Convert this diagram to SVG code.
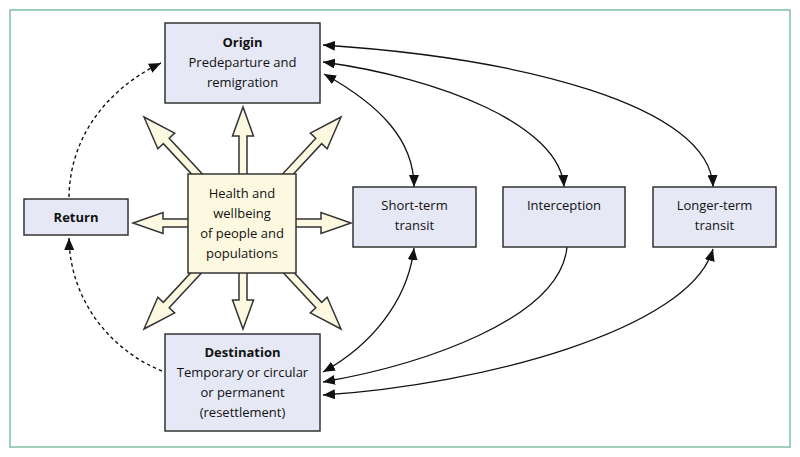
<svg xmlns="http://www.w3.org/2000/svg" width="800" height="457" viewBox="0 0 800 457">
<defs>
<style>
.frame{fill:#fff;stroke:#82c0a4;stroke-width:1.5}
.box{fill:#e6e8f5;stroke:#333;stroke-width:1.5}
.hbox{fill:#fdf9e0;stroke:#333;stroke-width:1.5}
.fat{fill:#fdf9e0;stroke:#333;stroke-width:1.5;stroke-linejoin:miter}
text{font-family:"Open Sans","Noto Sans",sans-serif;font-size:13px;fill:#111;text-anchor:middle}
.b{font-weight:bold}
.con{fill:none;stroke:#111;stroke-width:1.3}
.dash{fill:none;stroke:#111;stroke-width:1.4;stroke-dasharray:3.5 3}
</style>
<marker id="ah" viewBox="0 0 12 10" refX="12" refY="5" markerWidth="12" markerHeight="10" markerUnits="userSpaceOnUse" orient="auto-start-reverse">
<path d="M0,0 L12,5 L0,10 Z" fill="#111"/>
</marker>
</defs>
<rect class="frame" x="10" y="10" width="780" height="437"/>

<g id="connectors">
<path class="con" d="M324,74 C380,105 414,140 414,187" marker-start="url(#ah)" marker-end="url(#ah)"/>
<path class="con" d="M323,62 C440,78 560,125 564,187" marker-start="url(#ah)" marker-end="url(#ah)"/>
<path class="con" d="M323,45 C520,58 710,105 713,187" marker-start="url(#ah)" marker-end="url(#ah)"/>
<path class="con" d="M414,248 C408,300 372,345 323,372" marker-start="url(#ah)" marker-end="url(#ah)"/>
<path class="con" d="M567,247 C560,320 420,365 323,382" marker-end="url(#ah)"/>
<path class="con" d="M713,249 C690,330 480,385 323,395" marker-start="url(#ah)" marker-end="url(#ah)"/>
<path class="dash" d="M69,197 C70,130 115,85 161,63" marker-end="url(#ah)"/>
<path class="dash" d="M162,371 C110,350 70,300 69,238" marker-end="url(#ah)"/>
</g>

<g id="health">
<path class="fat" transform="translate(243,223) rotate(-90)" d="M0,-4 L87,-4 L87,-10.5 L116,0 L87,10.5 L87,4 L0,4 Z"/>
<path class="fat" transform="translate(243,223) rotate(90)" d="M0,-4 L77,-4 L77,-10.5 L106,0 L77,10.5 L77,4 L0,4 Z"/>
<path class="fat" transform="translate(243,223) rotate(180)" d="M0,-4 L80,-4 L80,-10.5 L110,0 L80,10.5 L80,4 L0,4 Z"/>
<path class="fat" transform="translate(243,223)" d="M0,-4 L78,-4 L78,-10.5 L108,0 L78,10.5 L78,4 L0,4 Z"/>
<path class="fat" transform="translate(242.5,223) rotate(-132.9)" d="M0,-4 L112,-4 L112,-11.5 L144.7,0 L112,11.5 L112,4 L0,4 Z"/>
<path class="fat" transform="translate(242.5,223) rotate(-47.1)" d="M0,-4 L112,-4 L112,-11.5 L144.7,0 L112,11.5 L112,4 L0,4 Z"/>
<path class="fat" transform="translate(242.5,223) rotate(132.9)" d="M0,-4 L112,-4 L112,-11.5 L144.7,0 L112,11.5 L112,4 L0,4 Z"/>
<path class="fat" transform="translate(242.5,223) rotate(47.1)" d="M0,-4 L112,-4 L112,-11.5 L144.7,0 L112,11.5 L112,4 L0,4 Z"/>
<rect class="hbox" x="188" y="174" width="108" height="99"/>
<text x="242" y="198">Health and</text>
<text x="242" y="218">wellbeing</text>
<text x="242" y="238">of people and</text>
<text x="242" y="258">populations</text>
</g>

<g id="origin">
<rect class="box" x="165" y="23" width="155" height="80"/>
<text class="b" x="242.5" y="47">Origin</text>
<text x="242.5" y="67">Predeparture and</text>
<text x="242.5" y="87">remigration</text>
</g>

<g id="return">
<rect class="box" x="24" y="199" width="104" height="36"/>
<text class="b" x="76" y="222">Return</text>
</g>

<g id="short-term">
<rect class="box" x="353" y="187" width="123" height="60"/>
<text x="414.5" y="210">Short-term</text>
<text x="414.5" y="230">transit</text>
</g>

<g id="interception">
<rect class="box" x="503" y="187" width="122" height="60"/>
<text x="564" y="210">Interception</text>
</g>

<g id="longer-term">
<rect class="box" x="653" y="187" width="123" height="60"/>
<text x="714.5" y="210">Longer-term</text>
<text x="714.5" y="230">transit</text>
</g>

<g id="destination">
<rect class="box" x="165" y="334" width="155" height="97"/>
<text class="b" x="242.5" y="357">Destination</text>
<text x="242.5" y="377">Temporary or circular</text>
<text x="242.5" y="397">or permanent</text>
<text x="242.5" y="417">(resettlement)</text>
</g>
</svg>
